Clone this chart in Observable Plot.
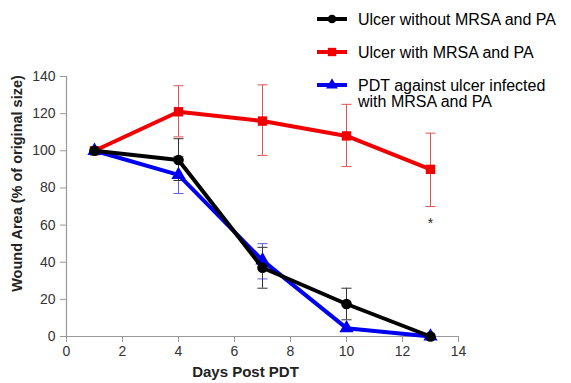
<!DOCTYPE html>
<html>
<head>
<meta charset="utf-8">
<script src="https://cdn.jsdelivr.net/npm/d3@7"></script>
<script src="https://cdn.jsdelivr.net/npm/@observablehq/plot@0.6"></script>
<style>
  html, body { margin: 0; padding: 0; background: #fff; }
  #wrap { position: relative; width: 571px; height: 383px; font-family: "Liberation Sans", Arial, sans-serif; }
  #legend { position: absolute; left: 316px; top: 6px; font-size: 16px; color: #000; }
  .row { display: flex; align-items: flex-start; height: 33px; }
  .row svg { flex: none; margin-top: 3px; }
  .row span { margin-left: 10px; line-height: 16px; margin-top: 6px; }
</style>
</head>
<body>
<div id="wrap"><div id="legend"></div></div>
<script>
const days = [1, 4, 7, 10, 13];
const seriesNames = ["Ulcer without MRSA and PA", "Ulcer with MRSA and PA", "PDT against ulcer infected with MRSA and PA"];
const seriesColors = ["#000000", "#f00000", "#0000f0"];
const errColors = ["#333333", "#dd5555", "#6060ee"];
const seriesSymbols = ["circle", "square", "triangle"];

const noMrsa   = [100, 95, 37, 17.5, 0];
const noMrsaLo = [null, 84, 26, 9, null];
const noMrsaHi = [null, 106.5, 48, 26, null];

const withMrsa   = [100, 121, 116, 108, 90];
const withMrsaLo = [null, 107.5, 97.5, 91.5, 70];
const withMrsaHi = [null, 135, 135.5, 125, 109.5];

const pdt   = [100, 87, 41, 4.5, 0];
const pdtLo = [null, 77, 31, null, null];
const pdtHi = [null, 97, 50, null, null];

const starDay = 13, starValue = 63;
const xTicks = [0, 2, 4, 6, 8, 10, 12, 14];
const yTicks = [0, 20, 40, 60, 80, 100, 120, 140];

const values = [noMrsa, withMrsa, pdt];
const los = [noMrsaLo, withMrsaLo, pdtLo];
const his = [noMrsaHi, withMrsaHi, pdtHi];

const rows = [];
const errs = [];
values.forEach((vals, s) => {
  vals.forEach((v, i) => {
    rows.push({series: s, day: days[i], value: v});
    if (los[s][i] != null) errs.push({series: s, day: days[i], lo: los[s][i], hi: his[s][i]});
  });
});
const capHalf = 0.18;
const caps = errs.flatMap(e => [{series: e.series, day: e.day, v: e.lo}, {series: e.series, day: e.day, v: e.hi}]);
const drawOrder = [1, 2, 0];

const marks = [];
drawOrder.forEach(s => {
  marks.push(Plot.ruleX(errs.filter(e => e.series === s), {x: "day", y1: "lo", y2: "hi", stroke: errColors[s], strokeWidth: 1}));
  marks.push(Plot.link(caps.filter(e => e.series === s), {x1: d => d.day - capHalf, x2: d => d.day + capHalf, y1: "v", y2: "v", stroke: errColors[s], strokeWidth: 1}));
});
marks.push(Plot.ruleX([0], {y1: 0, y2: 140, stroke: "#999", strokeWidth: 1.2}));
marks.push(Plot.ruleY([0], {x1: 0, x2: 14, stroke: "#999", strokeWidth: 1.2}));
drawOrder.forEach(s => {
  const d = rows.filter(r => r.series === s);
  marks.push(Plot.line(d, {x: "day", y: "value", stroke: seriesColors[s], strokeWidth: 4}));
  marks.push(Plot.dot(d, {x: "day", y: "value", fill: seriesColors[s], stroke: "none", symbol: seriesSymbols[s], r: 5.3}));
});
marks.push(Plot.text([{day: starDay, v: starValue}], {x: "day", y: "v", text: () => "*", fontSize: 14, fill: "#222", dy: 4}));
marks.push(Plot.axisX({ticks: xTicks, tickSize: 6, tickPadding: 4, stroke: "#999", label: null, fontSize: 14}));
marks.push(Plot.axisY({ticks: yTicks, tickSize: 6, tickPadding: 5, stroke: "#999", label: null, fontSize: 14}));
marks.push(Plot.text(["Days Post PDT"], {frameAnchor: "bottom", textAnchor: "middle", dy: 40, dx: -17, fontWeight: "bold", fontSize: 15, fill: "#222"}));
marks.push(Plot.text(["Wound Area (% of original size)"], {frameAnchor: "left", textAnchor: "middle", rotate: -90, dx: -49, dy: -23, fontWeight: "bold", fontSize: 14.5, fill: "#222"}));

const chart = Plot.plot({
  width: 571,
  height: 383,
  marginLeft: 66,
  marginRight: 113,
  marginTop: 76,
  marginBottom: 47,
  x: {domain: [0, 14]},
  y: {domain: [0, 140]},
  style: {fontFamily: "'Liberation Sans', Arial, sans-serif", fontSize: "14px", color: "#333", background: "#fff"},
  marks
});
document.getElementById("wrap").prepend(chart);

const legend = d3.select("#legend");
const legendLabels = ["Ulcer without MRSA and PA", "Ulcer with MRSA and PA", "PDT against ulcer infected<br>with MRSA and PA"];
[0, 1, 2].forEach(s => {
  const row = legend.append("div").attr("class", "row");
  const svg = row.append("svg").attr("width", 32).attr("height", 20);
  svg.append("line").attr("x1", 1).attr("x2", 31).attr("y1", 10).attr("y2", 10)
    .attr("stroke", seriesColors[s]).attr("stroke-width", 4);
  const sym = s === 0 ? d3.symbolCircle : s === 1 ? d3.symbolSquare : d3.symbolTriangle;
  svg.append("path").attr("d", d3.symbol(sym, s === 1 ? 70 : 60)())
    .attr("transform", "translate(16,10)").attr("fill", seriesColors[s]);
  row.append("span").html(legendLabels[s]);
});
</script>
</body>
</html>
